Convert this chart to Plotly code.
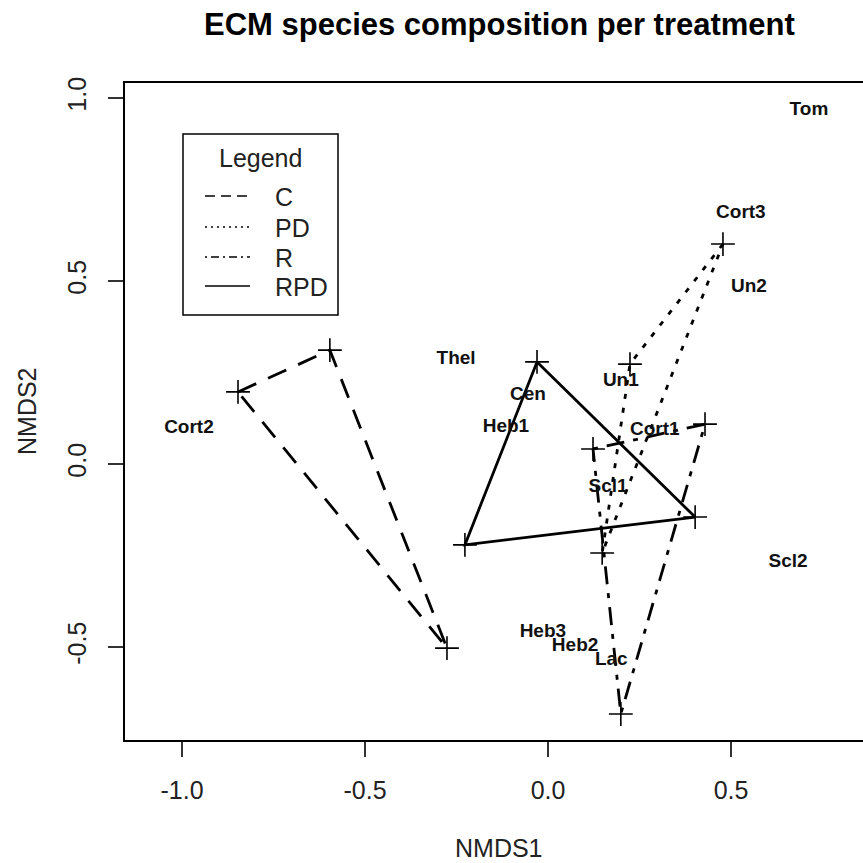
import plotly.graph_objects as go

# NMDS site scores forming each treatment hull (3 sites per treatment)
C_x = [-0.847, -0.596, -0.276]
C_y = [0.197, 0.311, -0.503]
PD_x = [0.478, 0.224, 0.148]
PD_y = [0.601, 0.273, -0.243]
R_x = [0.123, 0.429, 0.199]
R_y = [0.041, 0.109, -0.683]
RPD_x = [-0.030, -0.227, 0.402]
RPD_y = [0.279, -0.221, -0.145]

# Species scores
species = ["Tom", "Cort3", "Un2", "Thel", "Un1", "Cen", "Heb1", "Cort1",
           "Cort2", "Scl1", "Scl2", "Heb3", "Heb2", "Lac"]
species_x = [0.713, 0.527, 0.549, -0.251, 0.199, -0.055, -0.115, 0.292,
             -0.981, 0.164, 0.656, -0.014, 0.074, 0.173]
species_y = [0.967, 0.686, 0.484, 0.287, 0.227, 0.189, 0.101, 0.093,
             0.098, -0.063, -0.268, -0.459, -0.497, -0.536]

treatments = ["C", "PD", "R", "RPD"]
x_ticks = [-1.0, -0.5, 0.0, 0.5]
x_tick_text = ["-1.0", "-0.5", "0.0", "0.5"]
y_ticks = [-0.5, 0.0, 0.5, 1.0]
y_tick_text = ["-0.5", "0.0", "0.5", "1.0"]

FONT = "Liberation Sans, Arial, sans-serif"
W, H = 863, 863
L, R_M, T, B = 125, 0, 83, 123
PW, PH = W - L - R_M, H - T - B


def px(xp):
    return (xp - L) / PW


def py(yp):
    return (H - B - yp) / PH


hulls = {"C": (C_x, C_y), "PD": (PD_x, PD_y), "R": (R_x, R_y), "RPD": (RPD_x, RPD_y)}
dash_main = {"C": "20px,13px", "PD": "5px,9px", "R": "5px,9px,18px,9px", "RPD": "solid"}
dash_leg = {"C": "10px,6px", "PD": "2px,4px", "R": "2px,4px,8px,4px", "RPD": "solid"}

fig = go.Figure()

for t in treatments:
    xs, ys = hulls[t]
    fig.add_trace(go.Scatter(
        x=xs + xs[:1], y=ys + ys[:1], mode="lines",
        line=dict(color="black", width=2.8, dash=dash_main[t]),
        hoverinfo="skip", showlegend=False))

for t in treatments:
    xs, ys = hulls[t]
    fig.add_trace(go.Scatter(
        x=xs, y=ys, mode="markers",
        marker=dict(symbol="cross-thin", size=17, line=dict(color="black", width=1.6)),
        showlegend=False))

fig.add_trace(go.Scatter(
    x=species_x, y=species_y, mode="text", text=species,
    textfont=dict(family=FONT, size=19, color="#111111", weight="bold"),
    showlegend=False))

axis_common = dict(
    showgrid=False, zeroline=False, showline=True, linecolor="black", linewidth=1.5,
    ticks="outside", ticklen=15, tickwidth=1.5, tickcolor="#333333",
    tickfont=dict(family=FONT, size=25, color="#222222"),
)

fig.update_xaxes(range=[(L - 548) / 366, (W - R_M - 548) / 366],
                 tickvals=x_ticks, ticktext=x_tick_text, mirror=True,
                 ticklabelstandoff=12, **axis_common)
fig.update_yaxes(range=[(464 - (H - B)) / 366, (464 - T) / 366],
                 tickvals=y_ticks, ticktext=y_tick_text, tickangle=-90,
                 ticklabelstandoff=12, **axis_common)

annotations = [
    dict(text="<b>ECM species composition per treatment</b>", x=px(499), y=py(25),
         font=dict(family=FONT, size=31, color="black")),
    dict(text="NMDS1", x=px(499), y=py(848), font=dict(family=FONT, size=25, color="#222222")),
    dict(text="NMDS2", x=px(27), y=py(411), textangle=-90,
         font=dict(family=FONT, size=25, color="#222222")),
    dict(text="Legend", x=px(260), y=py(158), font=dict(family=FONT, size=25, color="#222222")),
]

shapes = [dict(type="rect", xref="paper", yref="paper",
               x0=px(183), x1=px(338), y0=py(315), y1=py(134),
               line=dict(color="black", width=1.5), fillcolor="white", layer="above")]

leg_y = [196, 227, 257, 286]
for t, yy in zip(treatments, leg_y):
    shapes.append(dict(type="line", xref="paper", yref="paper",
                       x0=px(205), x1=px(250), y0=py(yy), y1=py(yy),
                       line=dict(color="black", width=1.6, dash=dash_leg[t]), layer="above"))
    annotations.append(dict(text=t, x=px(273), y=py(yy + 1), xanchor="left",
                            font=dict(family=FONT, size=25, color="#222222")))

for a in annotations:
    a.setdefault("xref", "paper")
    a.setdefault("yref", "paper")
    a.setdefault("showarrow", False)
    a.setdefault("xanchor", "center")
    a.setdefault("yanchor", "middle")

fig.update_layout(
    width=W, height=H, autosize=False,
    margin=dict(l=L, r=R_M, t=T, b=B, pad=0),
    paper_bgcolor="white", plot_bgcolor="white",
    shapes=shapes, annotations=annotations, showlegend=False,
)

fig.write_html("out.html")
